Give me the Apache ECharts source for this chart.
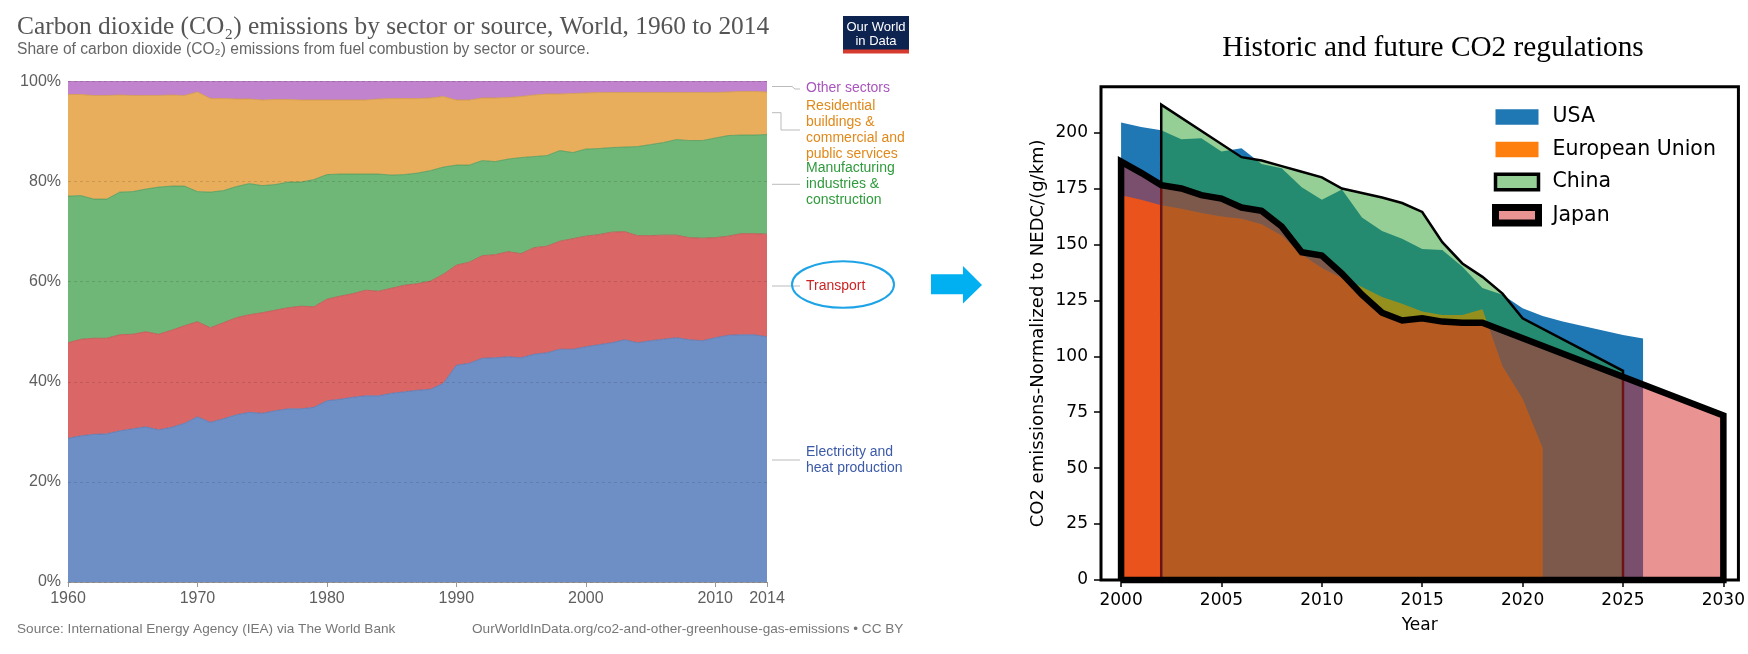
<!DOCTYPE html>
<html><head><meta charset="utf-8">
<script src="https://cdn.jsdelivr.net/npm/echarts@6/dist/echarts.min.js"></script>
<style>html,body{margin:0;padding:0;background:#fff}#c{width:1748px;height:654px}</style>
</head><body><div id="c"></div>
<script>
// ---------- Left chart: OWID share of CO2 emissions by sector ----------
const owidYears = [1960,1961,1962,1963,1964,1965,1966,1967,1968,1969,1970,1971,1972,1973,1974,1975,1976,1977,1978,1979,1980,1981,1982,1983,1984,1985,1986,1987,1988,1989,1990,1991,1992,1993,1994,1995,1996,1997,1998,1999,2000,2001,2002,2003,2004,2005,2006,2007,2008,2009,2010,2011,2012,2013,2014];
const electricity = [28.7,29.2,29.5,29.6,30.2,30.6,31.0,30.4,30.9,31.7,33.0,31.9,32.6,33.4,33.9,33.7,34.2,34.6,34.6,34.9,36.2,36.5,36.9,37.2,37.2,37.7,38.0,38.3,38.5,39.7,43.3,43.7,44.7,44.8,45.0,44.8,45.5,45.8,46.5,46.5,47.0,47.4,47.8,48.4,47.8,48.2,48.5,48.8,48.4,48.2,48.8,49.3,49.4,49.4,49.0];
const transport = [19.1,19.3,19.2,19.1,19.2,18.9,19.0,19.1,19.4,19.5,19.0,18.9,19.2,19.4,19.5,20.1,20.1,20.2,20.5,20.1,20.3,20.6,20.7,21.1,20.9,21.0,21.3,21.3,21.6,21.8,20.0,20.2,20.5,20.6,21.0,20.8,21.3,21.3,21.6,22.1,22.1,22.0,22.1,21.6,21.4,21.0,20.8,20.5,20.4,20.5,20.0,19.8,20.2,20.2,20.5];
const manufacturing = [29.3,28.7,27.8,27.8,28.5,28.5,28.5,29.4,28.8,27.9,26.0,27.1,26.4,26.2,26.2,25.4,25.1,25.1,24.8,25.4,24.9,24.4,23.9,23.2,23.4,22.6,22.1,22.1,22.1,21.4,20.0,19.4,19.0,18.6,18.5,19.2,18.2,18.1,18.1,17.2,17.4,17.2,16.9,16.9,17.8,18.2,18.5,19.1,19.4,19.5,19.9,20.1,19.7,19.7,19.9];
const residential = [20.3,20.2,20.7,20.7,19.4,19.2,18.7,18.3,18.2,18.1,19.9,18.7,18.4,17.5,16.9,17.1,17.0,16.5,16.4,15.9,14.9,14.8,14.8,14.8,15.0,15.3,15.2,14.9,14.5,14.1,13.0,13.0,12.5,12.7,12.3,12.2,12.3,12.3,11.3,11.8,11.2,11.2,11.0,10.9,10.8,10.4,10.0,9.4,9.6,9.6,9.1,8.7,8.7,8.7,8.5];
const otherSectors = [2.6,2.6,2.8,2.8,2.7,2.8,2.8,2.8,2.7,2.8,2.1,3.4,3.4,3.5,3.5,3.7,3.6,3.6,3.7,3.7,3.7,3.7,3.7,3.7,3.5,3.4,3.4,3.4,3.3,3.0,3.7,3.7,3.3,3.3,3.2,3.0,2.7,2.5,2.5,2.4,2.3,2.2,2.2,2.2,2.2,2.2,2.2,2.2,2.2,2.2,2.2,2.1,2.0,2.0,2.1];
const owidXTickLabels = [1960,1970,1980,1990,2000,2010,2014];

// ---------- Right chart: historic and future CO2 regulations ----------
const usaYears = [2000,2001,2002,2003,2004,2005,2006,2007,2008,2009,2010,2011,2012,2013,2014,2015,2016,2017,2018,2019,2020,2021,2022,2023,2024,2025,2026];
const usaValues = [204.5,202.5,201,197,197.5,191.5,193,186,184,175.5,170,174.5,162,156,152.5,148,147.5,140,130.5,127.5,121.5,118,115.5,113.5,111.5,109.5,108];
const euYears = [2000,2001,2002,2003,2004,2005,2006,2007,2008,2009,2010,2011,2012,2013,2014,2015,2016,2017,2018,2019,2020,2021];
const euValues = [172,170,167.5,166,164,162.5,161.5,159,154,145.5,139.5,135,131,126.5,123.5,120,118.5,118.5,121,95.5,81,59];
const chinaYears = [2002,2006,2007,2008,2009,2010,2011,2012,2013,2014,2015,2016,2017,2018,2019,2020,2025];
const chinaValues = [212.5,189,187.5,185,182.5,180,175,173,171,168.5,164.5,151,141.5,135.5,128,117,93.5];
const japanYears = [2000,2001,2002,2003,2004,2005,2006,2007,2008,2009,2010,2011,2012,2013,2014,2015,2016,2017,2018,2030];
const japanValues = [187,182,176.5,175,172,170.5,166.5,165,158,146.5,145,137,127.5,119.5,116,117,115.5,115,115,73.5];
const regXTicks = [2000,2005,2010,2015,2020,2025,2030];
const regYTicks = [0,25,50,75,100,125,150,175,200];

function pairs(xs, ys) { return xs.map((x, i) => [x, ys[i]]); }
function closed(xs, ys) { // polygon outline down to the baseline at both ends
  const p = pairs(xs, ys);
  return [[xs[0], 0]].concat(p, [[xs[xs.length - 1], 0], [xs[0], 0]]);
}

const chart = echarts.init(document.getElementById('c'), null, {renderer: 'canvas'});
const SANS = 'Liberation Sans, Arial, sans-serif';
const DJV = 'DejaVu Sans, sans-serif';

function owidArea(name, data, fill, stroke) {
  return {
    name, type: 'line', stack: 'share', data, xAxisIndex: 0, yAxisIndex: 0,
    symbol: 'none', silent: true, emphasis: {disabled: true},
    lineStyle: {width: 0.8, color: stroke}, areaStyle: {color: fill, opacity: 1}
  };
}
function txt(x, y, text, size, color, opts) {
  return Object.assign({
    type: 'text', silent: true,
    style: Object.assign({x, y, text, font: size + 'px ' + SANS, fill: color,
      align: 'left', verticalAlign: 'middle', textAlign: 'left', textVerticalAlign: 'middle'}, opts || {})
  });
}
function poly(points, color) {
  return {type: 'polyline', silent: true, shape: {points}, style: {stroke: color, lineWidth: 1, fill: null}};
}

const option = {
  backgroundColor: '#fff',
  animation: false,
  grid: [
    {left: 68, top: 81.5, width: 699, height: 500.5},
    {left: 1101, top: 86.7, width: 642, height: 493.3, show: true, borderColor: '#000', borderWidth: 3, backgroundColor: 'transparent'}
  ],
  xAxis: [
    {gridIndex: 0, type: 'category', data: owidYears, boundaryGap: false,
     axisLine: {show: true, lineStyle: {color: '#999', width: 1}},
     axisTick: {show: true, length: 5, lineStyle: {color: '#999'},
       interval: (i, v) => owidXTickLabels.includes(+v)},
     axisLabel: {interval: (i, v) => owidXTickLabels.includes(+v), fontFamily: SANS, fontSize: 16, color: '#5e5e5e', margin: 9},
     splitLine: {show: false}},
    {gridIndex: 1, type: 'value', min: 1999, max: 2030.75,
     axisLine: {show: false},
     axisTick: {show: true, length: 7, inside: false, customValues: regXTicks, lineStyle: {color: '#000', width: 1.5}},
     axisLabel: {customValues: regXTicks, formatter: v => String(v), fontFamily: DJV, fontSize: 17, color: '#000', margin: 12},
     splitLine: {show: false},
     name: 'Year', nameLocation: 'middle', nameGap: 37,
     nameTextStyle: {fontFamily: DJV, fontSize: 17, color: '#000'}}
  ],
  yAxis: [
    {gridIndex: 0, type: 'value', min: 0, max: 100, interval: 20, z: 5,
     axisLine: {show: false}, axisTick: {show: false},
     axisLabel: {formatter: '{value}%', fontFamily: SANS, fontSize: 16, color: '#5e5e5e', margin: 7},
     splitLine: {show: true, lineStyle: {color: 'rgba(0,0,0,0.12)', type: [3, 3], width: 1}}},
    {gridIndex: 1, type: 'value', min: 0, max: 220.5,
     axisLine: {show: false},
     axisTick: {show: true, length: 7, inside: false, customValues: regYTicks, lineStyle: {color: '#000', width: 1.5}},
     axisLabel: {customValues: regYTicks, formatter: v => String(v), fontFamily: DJV, fontSize: 17, color: '#000', margin: 13},
     splitLine: {show: false},
     name: 'CO2 emissions-Normalized to NEDC/(g/km)', nameLocation: 'middle', nameRotate: 90, nameGap: 54,
     nameTextStyle: {fontFamily: DJV, fontSize: 18, color: '#000'}}
  ],
  legend: {
    show: true, orient: 'vertical', left: 1492, top: 106.5, padding: 0,
    itemWidth: 43, itemHeight: 15.5, itemGap: 11.5, icon: 'rect', selectedMode: false,
    textStyle: {fontFamily: DJV, fontSize: 20.5, color: '#000', lineHeight: 21, padding: [0, 0, 0, 9]},
    data: [
      {name: 'USA', itemStyle: {color: '#1f77b4', borderWidth: 0, opacity: 1}},
      {name: 'European Union', itemStyle: {color: '#ff7f0e', borderWidth: 0, opacity: 1}},
      {name: 'China', itemStyle: {color: 'rgba(44,160,44,0.5)', borderColor: '#000', borderWidth: 3.5, opacity: 1}},
      {name: 'Japan', itemStyle: {color: 'rgba(214,39,40,0.5)', borderColor: '#000', borderWidth: 7, opacity: 1}}
    ]
  },
  series: [
    owidArea('Electricity and heat production', electricity, '#6e8fc6', '#5877b0'),
    owidArea('Transport', transport, '#da6666', '#c44f52'),
    owidArea('Manufacturing industries & construction', manufacturing, '#6eb777', '#52995c'),
    owidArea('Residential buildings & commercial and public services', residential, '#e8ae5b', '#d39945'),
    owidArea('Other sectors', otherSectors, '#c183cd', '#a96bb6'),
    {name: 'USA', type: 'line', xAxisIndex: 1, yAxisIndex: 1, data: pairs(usaYears, usaValues), z: 2,
     symbol: 'none', silent: true, color: '#1f77b4', lineStyle: {width: 0},
     areaStyle: {color: '#1f77b4', opacity: 1}},
    {name: 'European Union', type: 'line', xAxisIndex: 1, yAxisIndex: 1, data: pairs(euYears, euValues), z: 3,
     symbol: 'none', silent: true, color: '#ff7f0e', lineStyle: {width: 0},
     areaStyle: {color: '#ff7f0e', opacity: 1}},
    {name: 'China', type: 'line', xAxisIndex: 1, yAxisIndex: 1, data: closed(chinaYears, chinaValues), z: 4,
     symbol: 'none', silent: true, clip: false, color: '#2ca02c', lineStyle: {width: 2.5, color: '#000', join: 'miter'},
     areaStyle: {color: '#2ca02c', opacity: 0.5}},
    {name: 'Japan', type: 'line', xAxisIndex: 1, yAxisIndex: 1, data: closed(japanYears, japanValues), z: 5,
     symbol: 'none', silent: true, clip: false, color: '#d62728', lineStyle: {width: 6.5, color: '#000', join: 'miter'},
     areaStyle: {color: '#d62728', opacity: 0.5}}
  ],
  graphic: [
    // OWID header
    txt(17, 27.5, 'Carbon dioxide (CO₂) emissions by sector or source, World, 1960 to 2014', 25.4, '#555',
        {font: '25.4px Liberation Serif, Times New Roman, serif'}),
    txt(17, 49.5, 'Share of carbon dioxide (CO₂) emissions from fuel combustion by sector or source.', 15.6, '#666'),
    {type: 'rect', silent: true, shape: {x: 843, y: 16, width: 66, height: 34}, style: {fill: '#0d2350'}},
    {type: 'rect', silent: true, shape: {x: 843, y: 49.5, width: 66, height: 4}, style: {fill: '#d73a2e'}},
    txt(876, 27, 'Our World', 13, '#fff', {align: 'center', textAlign: 'center'}),
    txt(876, 41.5, 'in Data', 13, '#fff', {align: 'center', textAlign: 'center'}),
    // OWID footer
    txt(17, 629, 'Source: International Energy Agency (IEA) via The World Bank', 13.6, '#777'),
    txt(472, 629, 'OurWorldInData.org/co2-and-other-greenhouse-gas-emissions • CC BY', 13.6, '#777'),
    // OWID line labels
    poly([[772, 86.5], [792, 86.5], [795, 89], [800, 89]], '#bbb'),
    poly([[772, 112.7], [781, 112.7], [781, 130], [800, 130]], '#bbb'),
    poly([[772, 184.3], [800, 184.3]], '#bbb'),
    poly([[772, 286], [800, 286]], '#bbb'),
    poly([[772, 460], [800, 460]], '#bbb'),
    txt(806, 88.5, 'Other sectors', 14, '#a955bd'),
    txt(806, 105.7, 'Residential', 14, '#e0891a'),
    txt(806, 121.7, 'buildings &', 14, '#e0891a'),
    txt(806, 137.7, 'commercial and', 14, '#e0891a'),
    txt(806, 153.7, 'public services', 14, '#e0891a'),
    txt(806, 168.3, 'Manufacturing', 14, '#2f9a3c'),
    txt(806, 184.3, 'industries &', 14, '#2f9a3c'),
    txt(806, 200.3, 'construction', 14, '#2f9a3c'),
    txt(806, 286, 'Transport', 14, '#cc2424'),
    txt(806, 451.7, 'Electricity and', 14, '#3c5aa8'),
    txt(806, 467.7, 'heat production', 14, '#3c5aa8'),
    {type: 'ellipse', silent: true, shape: {cx: 843, cy: 284.5, rx: 51, ry: 23.3},
     style: {fill: null, stroke: '#1ea4e6', lineWidth: 2}},
    {type: 'polygon', silent: true,
     shape: {points: [[931, 274.3], [963, 274.3], [963, 266], [982, 285], [963, 303.5], [963, 294.3], [931, 294.3]]},
     style: {fill: '#00b0f0'}},
    // right title
    txt(1433, 48.5, 'Historic and future CO2 regulations', 29.3, '#000',
        {font: '29.3px Liberation Serif, Times New Roman, serif', align: 'center', textAlign: 'center'})
  ]
};
chart.setOption(option);
</script>
</body></html>
